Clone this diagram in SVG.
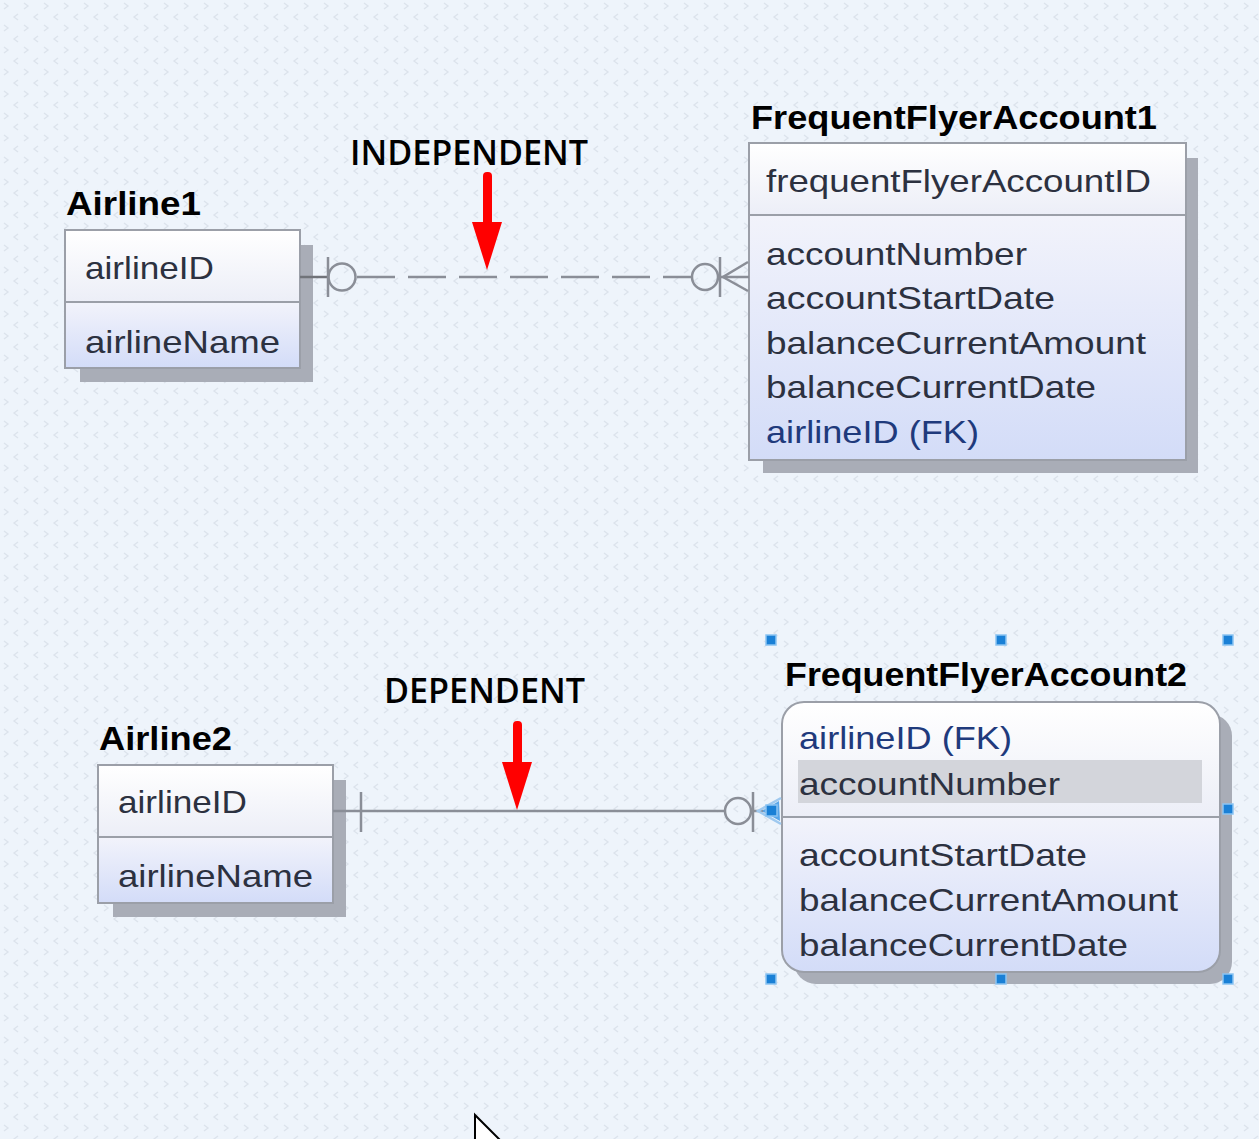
<svg xmlns="http://www.w3.org/2000/svg" width="1259" height="1139" viewBox="0 0 1259 1139">
<defs>
<pattern id="bg" width="20" height="22" patternUnits="userSpaceOnUse">
<rect width="20" height="22" fill="#eef4fb"/>
<path d="M4 3 L8 6 L4 9" fill="none" stroke="#dce3ec" stroke-width="1.3"/>
<path d="M18 14 L14 17 L18 20" fill="none" stroke="#dce3ec" stroke-width="1.3"/>
</pattern>
<linearGradient id="gTop" x1="0" y1="0" x2="0" y2="1">
<stop offset="0" stop-color="#ffffff"/>
<stop offset="1" stop-color="#eceef7"/>
</linearGradient>
<linearGradient id="gBot" x1="0" y1="0" x2="0" y2="1">
<stop offset="0" stop-color="#f2f3fb"/>
<stop offset="1" stop-color="#d3dcf8"/>
</linearGradient>
<clipPath id="ffa2clip"><rect x="782" y="702" width="438" height="270" rx="22"/></clipPath>
<style>
.shadow{fill:#a9adb7}
.box{fill:none;stroke:#9b9fa8;stroke-width:2}
.div{stroke:#9b9fa8;stroke-width:2}
.title{font-family:"Liberation Sans",Arial,sans-serif;font-weight:bold;font-size:33px;fill:#000}
.attr{font-family:"Liberation Sans",Arial,sans-serif;font-size:32px;fill:#2c3140}
.fk{font-family:"Liberation Sans",Arial,sans-serif;font-size:32px;fill:#1f3a7c}
.lbl{font-family:"Open Sans","DejaVu Sans",sans-serif;font-weight:600;font-size:34px;fill:#000}
.rel{fill:none;stroke:#8a8e97;stroke-width:2.5}
.sel{fill:none;stroke:#9fc9ef;stroke-width:2.5}
.handle{fill:#1a80d6;stroke:#8cc4f2;stroke-width:1.5}
.red{fill:#ff0000}
</style>
</defs>
<rect width="1259" height="1139" fill="url(#bg)"/>

<g id="Airline1">
<rect class="shadow" x="80" y="245" width="233" height="137"/>
<rect x="65" y="230" width="235" height="72" fill="url(#gTop)"/>
<rect x="65" y="302" width="235" height="66" fill="url(#gBot)"/>
<rect class="box" x="65" y="230" width="235" height="138"/>
<line class="div" x1="65" y1="302" x2="300" y2="302"/>
<text class="title" x="66" y="215" textLength="135" lengthAdjust="spacingAndGlyphs">Airline1</text>
<text class="attr" x="85" y="279" textLength="129" lengthAdjust="spacingAndGlyphs">airlineID</text>
<text class="attr" x="85" y="353" textLength="195" lengthAdjust="spacingAndGlyphs">airlineName</text>
</g>

<g id="FrequentFlyerAccount1">
<rect class="shadow" x="763" y="158" width="435" height="315"/>
<rect x="749" y="143" width="437" height="72" fill="url(#gTop)"/>
<rect x="749" y="215" width="437" height="245" fill="url(#gBot)"/>
<rect class="box" x="749" y="143" width="437" height="317"/>
<line class="div" x1="749" y1="215" x2="1186" y2="215"/>
<text class="title" x="751" y="129" textLength="406" lengthAdjust="spacingAndGlyphs">FrequentFlyerAccount1</text>
<text class="attr" x="766" y="192" textLength="385" lengthAdjust="spacingAndGlyphs">frequentFlyerAccountID</text>
<text class="attr" x="766" y="265" textLength="261" lengthAdjust="spacingAndGlyphs">accountNumber</text>
<text class="attr" x="766" y="309" textLength="289" lengthAdjust="spacingAndGlyphs">accountStartDate</text>
<text class="attr" x="766" y="354" textLength="380" lengthAdjust="spacingAndGlyphs">balanceCurrentAmount</text>
<text class="attr" x="766" y="398" textLength="330" lengthAdjust="spacingAndGlyphs">balanceCurrentDate</text>
<text class="fk" x="766" y="443" textLength="213" lengthAdjust="spacingAndGlyphs">airlineID (FK)</text>
</g>

<g id="Airline2">
<rect class="shadow" x="113" y="780" width="233" height="137"/>
<rect x="98" y="765" width="235" height="72" fill="url(#gTop)"/>
<rect x="98" y="837" width="235" height="66" fill="url(#gBot)"/>
<rect class="box" x="98" y="765" width="235" height="138"/>
<line class="div" x1="98" y1="837" x2="333" y2="837"/>
<text class="title" x="99" y="750" textLength="133" lengthAdjust="spacingAndGlyphs">Airline2</text>
<text class="attr" x="118" y="813" textLength="129" lengthAdjust="spacingAndGlyphs">airlineID</text>
<text class="attr" x="118" y="887" textLength="195" lengthAdjust="spacingAndGlyphs">airlineName</text>
</g>

<g id="FrequentFlyerAccount2">
<rect class="shadow" x="794" y="714" width="438" height="270" rx="22"/>
<g clip-path="url(#ffa2clip)">
<rect x="782" y="702" width="438" height="115" fill="url(#gTop)"/>
<rect x="782" y="817" width="438" height="155" fill="url(#gBot)"/>
</g>
<rect class="box" x="782" y="702" width="438" height="270" rx="22"/>
<line class="div" x1="782" y1="817" x2="1220" y2="817"/>
<rect x="798" y="760" width="404" height="43" fill="#d3d5db"/>
<text class="title" x="785" y="686" textLength="402" lengthAdjust="spacingAndGlyphs">FrequentFlyerAccount2</text>
<text class="fk" x="799" y="749" textLength="213" lengthAdjust="spacingAndGlyphs">airlineID (FK)</text>
<text class="attr" x="799" y="795" textLength="261" lengthAdjust="spacingAndGlyphs">accountNumber</text>
<text class="attr" x="799" y="866" textLength="288" lengthAdjust="spacingAndGlyphs">accountStartDate</text>
<text class="attr" x="799" y="911" textLength="379" lengthAdjust="spacingAndGlyphs">balanceCurrentAmount</text>
<text class="attr" x="799" y="956" textLength="329" lengthAdjust="spacingAndGlyphs">balanceCurrentDate</text>
<rect class="handle" x="766" y="635" width="10" height="10"/>
<rect class="handle" x="996" y="635" width="10" height="10"/>
<rect class="handle" x="1223" y="635" width="10" height="10"/>
<rect class="handle" x="1223" y="804" width="10" height="10"/>
<rect class="handle" x="766" y="974" width="10" height="10"/>
<rect class="handle" x="996" y="974" width="10" height="10"/>
<rect class="handle" x="1223" y="974" width="10" height="10"/>
</g>

<g id="connectors">
<line x1="300" y1="277" x2="329" y2="277" stroke="#707379" stroke-width="2.5"/>
<line class="rel" x1="328" y1="257" x2="328" y2="297"/>
<circle class="rel" cx="342" cy="277" r="13.5"/>
<line class="rel" x1="357" y1="277" x2="692" y2="277" stroke-dasharray="38 13"/>
<circle class="rel" cx="705" cy="277" r="13"/>
<line class="rel" x1="718" y1="277" x2="749" y2="277"/>
<line class="rel" x1="720" y1="257" x2="720" y2="297"/>
<path class="rel" d="M748 262 L723 277 L748 291"/>

<line class="rel" x1="333" y1="811" x2="725" y2="811"/>
<line class="rel" x1="361" y1="792" x2="361" y2="832"/>
<circle class="rel" cx="738" cy="811" r="13"/>
<line class="rel" x1="751" y1="811" x2="770" y2="811"/>
<line class="rel" x1="753" y1="792" x2="753" y2="832"/>
<path class="sel" d="M781 798 L758 811 L781 824"/>
<path d="M762 811 L779 801 L780 821 Z" fill="#5aa6e8"/>
<rect class="handle" x="766" y="805" width="11" height="11"/>
</g>

<g id="annotations">
<text class="lbl" x="350" y="165" textLength="238" lengthAdjust="spacingAndGlyphs">INDEPENDENT</text>
<rect class="red" x="483" y="172" width="9" height="56" rx="4"/>
<polygon class="red" points="472,222 502,222 487,270"/>
<text class="lbl" x="384" y="703" textLength="201" lengthAdjust="spacingAndGlyphs">DEPENDENT</text>
<rect class="red" x="513" y="721" width="9" height="46" rx="4"/>
<polygon class="red" points="502,762 532,762 517,810"/>
</g>

<path d="M475 1115 L475 1145 L505 1145 Z" fill="#ffffff" stroke="#000" stroke-width="2"/>
</svg>
